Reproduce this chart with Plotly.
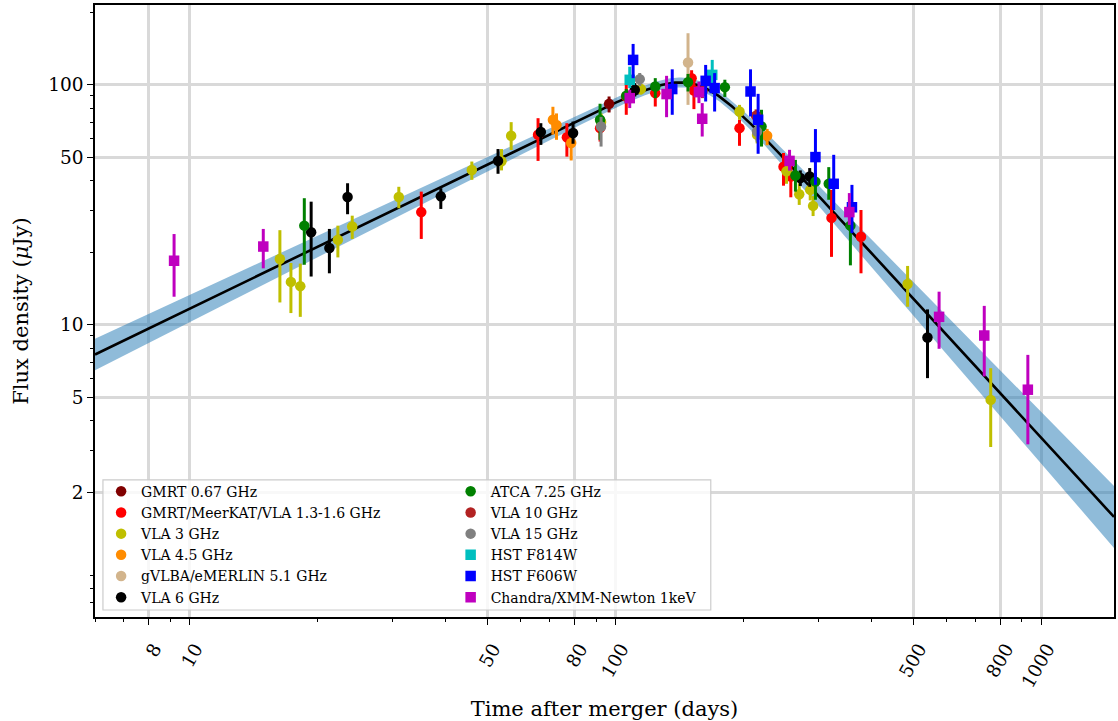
import numpy as np
import plotly.graph_objects as go

# ---------------- data (time in days, flux in uJy, lower/upper error-bar ends) -------------
gmrt067_t = [96.6]
gmrt067_f = [83.3]
gmrt067_lo = [76.7]
gmrt067_hi = [89.4]

gmrt13_t = [35.0, 65.8, 76.9, 92.0, 106, 124, 150.9, 152.8, 195.5, 248, 258, 321.4, 377]
gmrt13_f = [29.5, 61.9, 60.5, 66.0, 89.4, 92.3, 106.6, 94.7, 66.0, 45.6, 41.5, 27.9, 23.3]
gmrt13_lo = [22.8, 48.2, 50.2, 58.0, 75.0, 81.2, 93.8, 79.2, 55.7, 38.0, 34.0, 19.2, 16.4]
gmrt13_hi = [35.9, 72.6, 69.2, 75.0, 100, 101.6, 115, 104, 71.5, 52.0, 46.0, 36.5, 30.1]

vla3_t = [16.3, 17.3, 18.2, 22.3, 24.1, 31.0, 46.0, 54.0, 56.9, 92.5, 114.7, 195.5, 215, 252, 270, 286.5, 291, 485, 760]
vla3_f = [18.8, 15.1, 14.5, 22.6, 25.7, 34.1, 44.2, 48.0, 61.3, 70.0, 96.0, 77.4, 61.9, 43.6, 35.0, 36.5, 31.3, 14.8, 4.87]
vla3_lo = [12.4, 11.2, 10.8, 19.1, 22.8, 30.6, 40.2, 44.0, 53.5, 64.0, 91.0, 71.5, 57.0, 38.7, 31.6, 33.0, 28.4, 11.9, 3.1]
vla3_hi = [24.8, 18.1, 18.0, 25.9, 28.5, 37.6, 47.9, 54.0, 69.9, 76.0, 101, 82.5, 67.0, 48.0, 38.9, 40.0, 34.4, 17.6, 6.6]

vla45_t = [71.3, 72.7, 78.7, 227]
vla45_f = [71.5, 68.0, 57.2, 61.3]
vla45_lo = [62.0, 59.0, 48.4, 56.0]
vla45_hi = [81.0, 76.0, 63.9, 65.5]

vlba_t = [148]
vlba_f = [123.8]
vlba_lo = [82.5]
vlba_hi = [164]

vla6_t = [19.3, 21.3, 23.5, 38.9, 53.0, 66.8, 79.5, 111, 271.6, 285.7, 540]
vla6_f = [24.3, 20.9, 34.1, 34.3, 48.2, 63.6, 63.0, 95.3, 40.9, 41.5, 8.86]
vla6_lo = [15.9, 16.4, 28.9, 30.4, 42.6, 56.2, 56.8, 89.4, 37.9, 37.6, 6.0]
vla6_hi = [32.6, 25.1, 38.9, 37.1, 54.0, 69.2, 70.3, 101.6, 44.0, 45.0, 11.6]

atca_t = [18.6, 92.0, 106, 124, 148, 180.6, 220.2, 264.5, 294.7, 316.7, 356]
atca_f = [25.9, 71.5, 90.0, 98.4, 102.6, 97.8, 67.0, 41.9, 39.5, 38.7, 25.9]
atca_lo = [17.8, 59.0, 84.0, 88.0, 93.8, 89.0, 55.3, 35.9, 33.2, 33.2, 17.7]
atca_hi = [33.7, 83.4, 96.0, 106.6, 111, 105, 78.7, 48.7, 42.9, 45.4, 30.1]

vla10_t = [160, 213.8]
vla10_f = [94.0, 74.3]
vla10_lo = [88.0, 68.0]
vla10_hi = [100, 79.0]

vla15_t = [92.5, 114, 214.9]
vla15_f = [67.0, 105.6, 63.9]
vla15_lo = [55.3, 99.0, 58.0]
vla15_hi = [73.5, 112, 69.0]

f814_t = [108, 168.7]
f814_f = [104.9, 110]
f814_lo = [96.9, 98.4]
f814_hi = [119, 127]

f606_t = [110, 135.9, 162.8, 170.9, 207.5, 216.2, 294.7, 325.3, 359]
f606_f = [127, 96.0, 103.9, 96.9, 93.8, 71.5, 50.0, 38.7, 30.9]
f606_lo = [106.6, 75.0, 85.2, 77.4, 73.8, 51.6, 38.3, 30.1, 24.1]
f606_hi = [148, 116, 121, 111.9, 116, 91.7, 65.4, 51.1, 38.3]

xray_t = [9.2, 14.9, 108, 131.8, 157, 159.8, 256.2, 354, 575, 734, 929]
xray_f = [18.5, 21.2, 88.0, 91.5, 93.2, 72.2, 48.2, 29.5, 10.8, 9.03, 5.37]
xray_lo = [13.1, 17.2, 80.0, 73.3, 83.9, 60.9, 43.9, 26.1, 7.95, 6.1, 3.18]
xray_hi = [23.9, 25.1, 95.3, 109, 103, 83.9, 53.6, 35.4, 13.75, 12.0, 7.5]

labels = ["GMRT 0.67 GHz", "GMRT/MeerKAT/VLA 1.3-1.6 GHz", "VLA 3 GHz", "VLA 4.5 GHz",
          "gVLBA/eMERLIN 5.1 GHz", "VLA 6 GHz", "ATCA 7.25 GHz", "VLA 10 GHz", "VLA 15 GHz",
          "HST F814W", "HST F606W", "Chandra/XMM-Newton 1keV"]

# smoothly broken power-law fit parameters and uncertainties
F_PEAK, T_PEAK, ALPHA1, ALPHA2, SMOOTH = 100.0, 155.0, 0.86, -1.93, 3.3
D_LOGF, D_ALPHA1, D_ALPHA2 = 0.02, 0.044, 0.13
T_MIN, T_MAX = 6.0, 1480.0
Y_MIN, Y_MAX = 0.607, 215.0

x_ticks = [8, 10, 50, 80, 100, 500, 800, 1000]
y_ticks = [2, 5, 10, 50, 100]
x_minor = [6, 7, 9, 20, 30, 40, 60, 70, 90, 200, 300, 400, 600, 700, 900]
y_minor = [0.6, 0.7, 0.8, 0.9, 3, 4, 6, 7, 8, 9, 20, 30, 40, 60, 70, 80, 90, 200]

# ---------------------------------------------------------------------------------------
def sbpl(t, fp, tp, a1, a2, s):
    x = np.asarray(t) / tp
    return fp * 2 ** (1 / s) * (x ** (-s * a1) + x ** (-s * a2)) ** (-1 / s)

tt = np.logspace(np.log10(T_MIN), np.log10(T_MAX), 500)
ff = sbpl(tt, F_PEAK, T_PEAK, ALPHA1, ALPHA2, SMOOTH)
eps = 1e-4
d1 = (np.log10(sbpl(tt, F_PEAK, T_PEAK, ALPHA1 + eps, ALPHA2, SMOOTH)) - np.log10(ff)) / eps
d2 = (np.log10(sbpl(tt, F_PEAK, T_PEAK, ALPHA1, ALPHA2 + eps, SMOOTH)) - np.log10(ff)) / eps
sig = np.sqrt(D_LOGF ** 2 + (d1 * D_ALPHA1) ** 2 + (d2 * D_ALPHA2) ** 2)
f_hi = ff * 10 ** sig
f_lo = ff / 10 ** sig

FONT = "DejaVu Serif"
fig = go.Figure()
fig.add_trace(go.Scatter(x=np.concatenate([tt, tt[::-1]]), y=np.concatenate([f_hi, f_lo[::-1]]),
                         fill="toself", fillcolor="rgba(31,119,180,0.5)", line=dict(width=0),
                         mode="lines", hoverinfo="skip", showlegend=False))
fig.add_trace(go.Scatter(x=tt, y=ff, mode="lines", line=dict(color="black", width=2.6),
                         showlegend=False))

series = [
    (gmrt067_t, gmrt067_f, gmrt067_lo, gmrt067_hi, "#800000", "circle"),
    (gmrt13_t, gmrt13_f, gmrt13_lo, gmrt13_hi, "#ff0000", "circle"),
    (vla3_t, vla3_f, vla3_lo, vla3_hi, "#bfbf00", "circle"),
    (vla45_t, vla45_f, vla45_lo, vla45_hi, "#ff8c00", "circle"),
    (vlba_t, vlba_f, vlba_lo, vlba_hi, "#d2b48c", "circle"),
    (vla6_t, vla6_f, vla6_lo, vla6_hi, "#000000", "circle"),
    (atca_t, atca_f, atca_lo, atca_hi, "#008000", "circle"),
    (vla10_t, vla10_f, vla10_lo, vla10_hi, "#b22222", "circle"),
    (vla15_t, vla15_f, vla15_lo, vla15_hi, "#808080", "circle"),
    (f814_t, f814_f, f814_lo, f814_hi, "#00bfbf", "square"),
    (f606_t, f606_f, f606_lo, f606_hi, "#0000ff", "square"),
    (xray_t, xray_f, xray_lo, xray_hi, "#bf00bf", "square"),
]
for i, (t, f, lo, hi, col, sym) in enumerate(series):
    f_a = np.array(f)
    fig.add_trace(go.Scatter(
        x=t, y=f, mode="markers", name=labels[i], legend="legend" if i < 6 else "legend2",
        marker=dict(color=col, symbol=sym, size=10.5, line=dict(width=0)),
        error_y=dict(type="data", symmetric=False, array=np.array(hi) - f_a,
                     arrayminus=f_a - np.array(lo), color=col, thickness=3, width=0),
    ))

axis_common = dict(type="log", showline=True, linecolor="black", linewidth=1.6, mirror=True,
                   ticks="outside", ticklen=6, tickwidth=1.2, tickcolor="black",
                   showgrid=True, gridcolor="#d9d9d9", gridwidth=2.5, zeroline=False,
                   tickfont=dict(family=FONT, size=18.5, color="black"))

fig.update_xaxes(**axis_common, range=[np.log10(T_MIN), np.log10(T_MAX)],
                 tickmode="array", tickvals=x_ticks, ticktext=[str(v) for v in x_ticks],
                 tickangle=-60, ticklabelstandoff=6, ticklabelshift=6,
                 minor=dict(tickmode="array", tickvals=x_minor, ticks="outside", ticklen=3.5,
                            tickwidth=1, tickcolor="black", showgrid=False),
                 title=dict(text="Time after merger (days)", font=dict(family=FONT, size=21, color="black"),
                            standoff=12))
fig.update_yaxes(**axis_common, range=[np.log10(Y_MIN), np.log10(Y_MAX)],
                 tickmode="array", tickvals=y_ticks, ticktext=[str(v) for v in y_ticks],
                 minor=dict(tickmode="array", tickvals=y_minor, ticks="outside", ticklen=3.5,
                            tickwidth=1, tickcolor="black", showgrid=False),
                 title=dict(text="Flux density (<i>μ</i>Jy)", font=dict(family=FONT, size=21, color="black"),
                            standoff=14))

legend_style = dict(orientation="v", yanchor="top", xanchor="left", y=0.231,
                    bgcolor="rgba(0,0,0,0)", borderwidth=0, itemwidth=30,
                    font=dict(family=FONT, size=14, color="black"))
fig.update_layout(
    width=1118, height=721, margin=dict(l=95, r=2, t=5, b=104),
    plot_bgcolor="white", paper_bgcolor="white",
    font=dict(family=FONT, color="black"),
    legend=dict(**legend_style, x=0.006),
    legend2=dict(**legend_style, x=0.349),
    shapes=[dict(type="rect", xref="paper", yref="paper", x0=0.0078, x1=0.6043, y0=0.0114, y1=0.2239,
                 fillcolor="rgba(255,255,255,0.8)", line=dict(color="#cccccc", width=1.2), layer="above")],
)

fig.write_html("out.html")
